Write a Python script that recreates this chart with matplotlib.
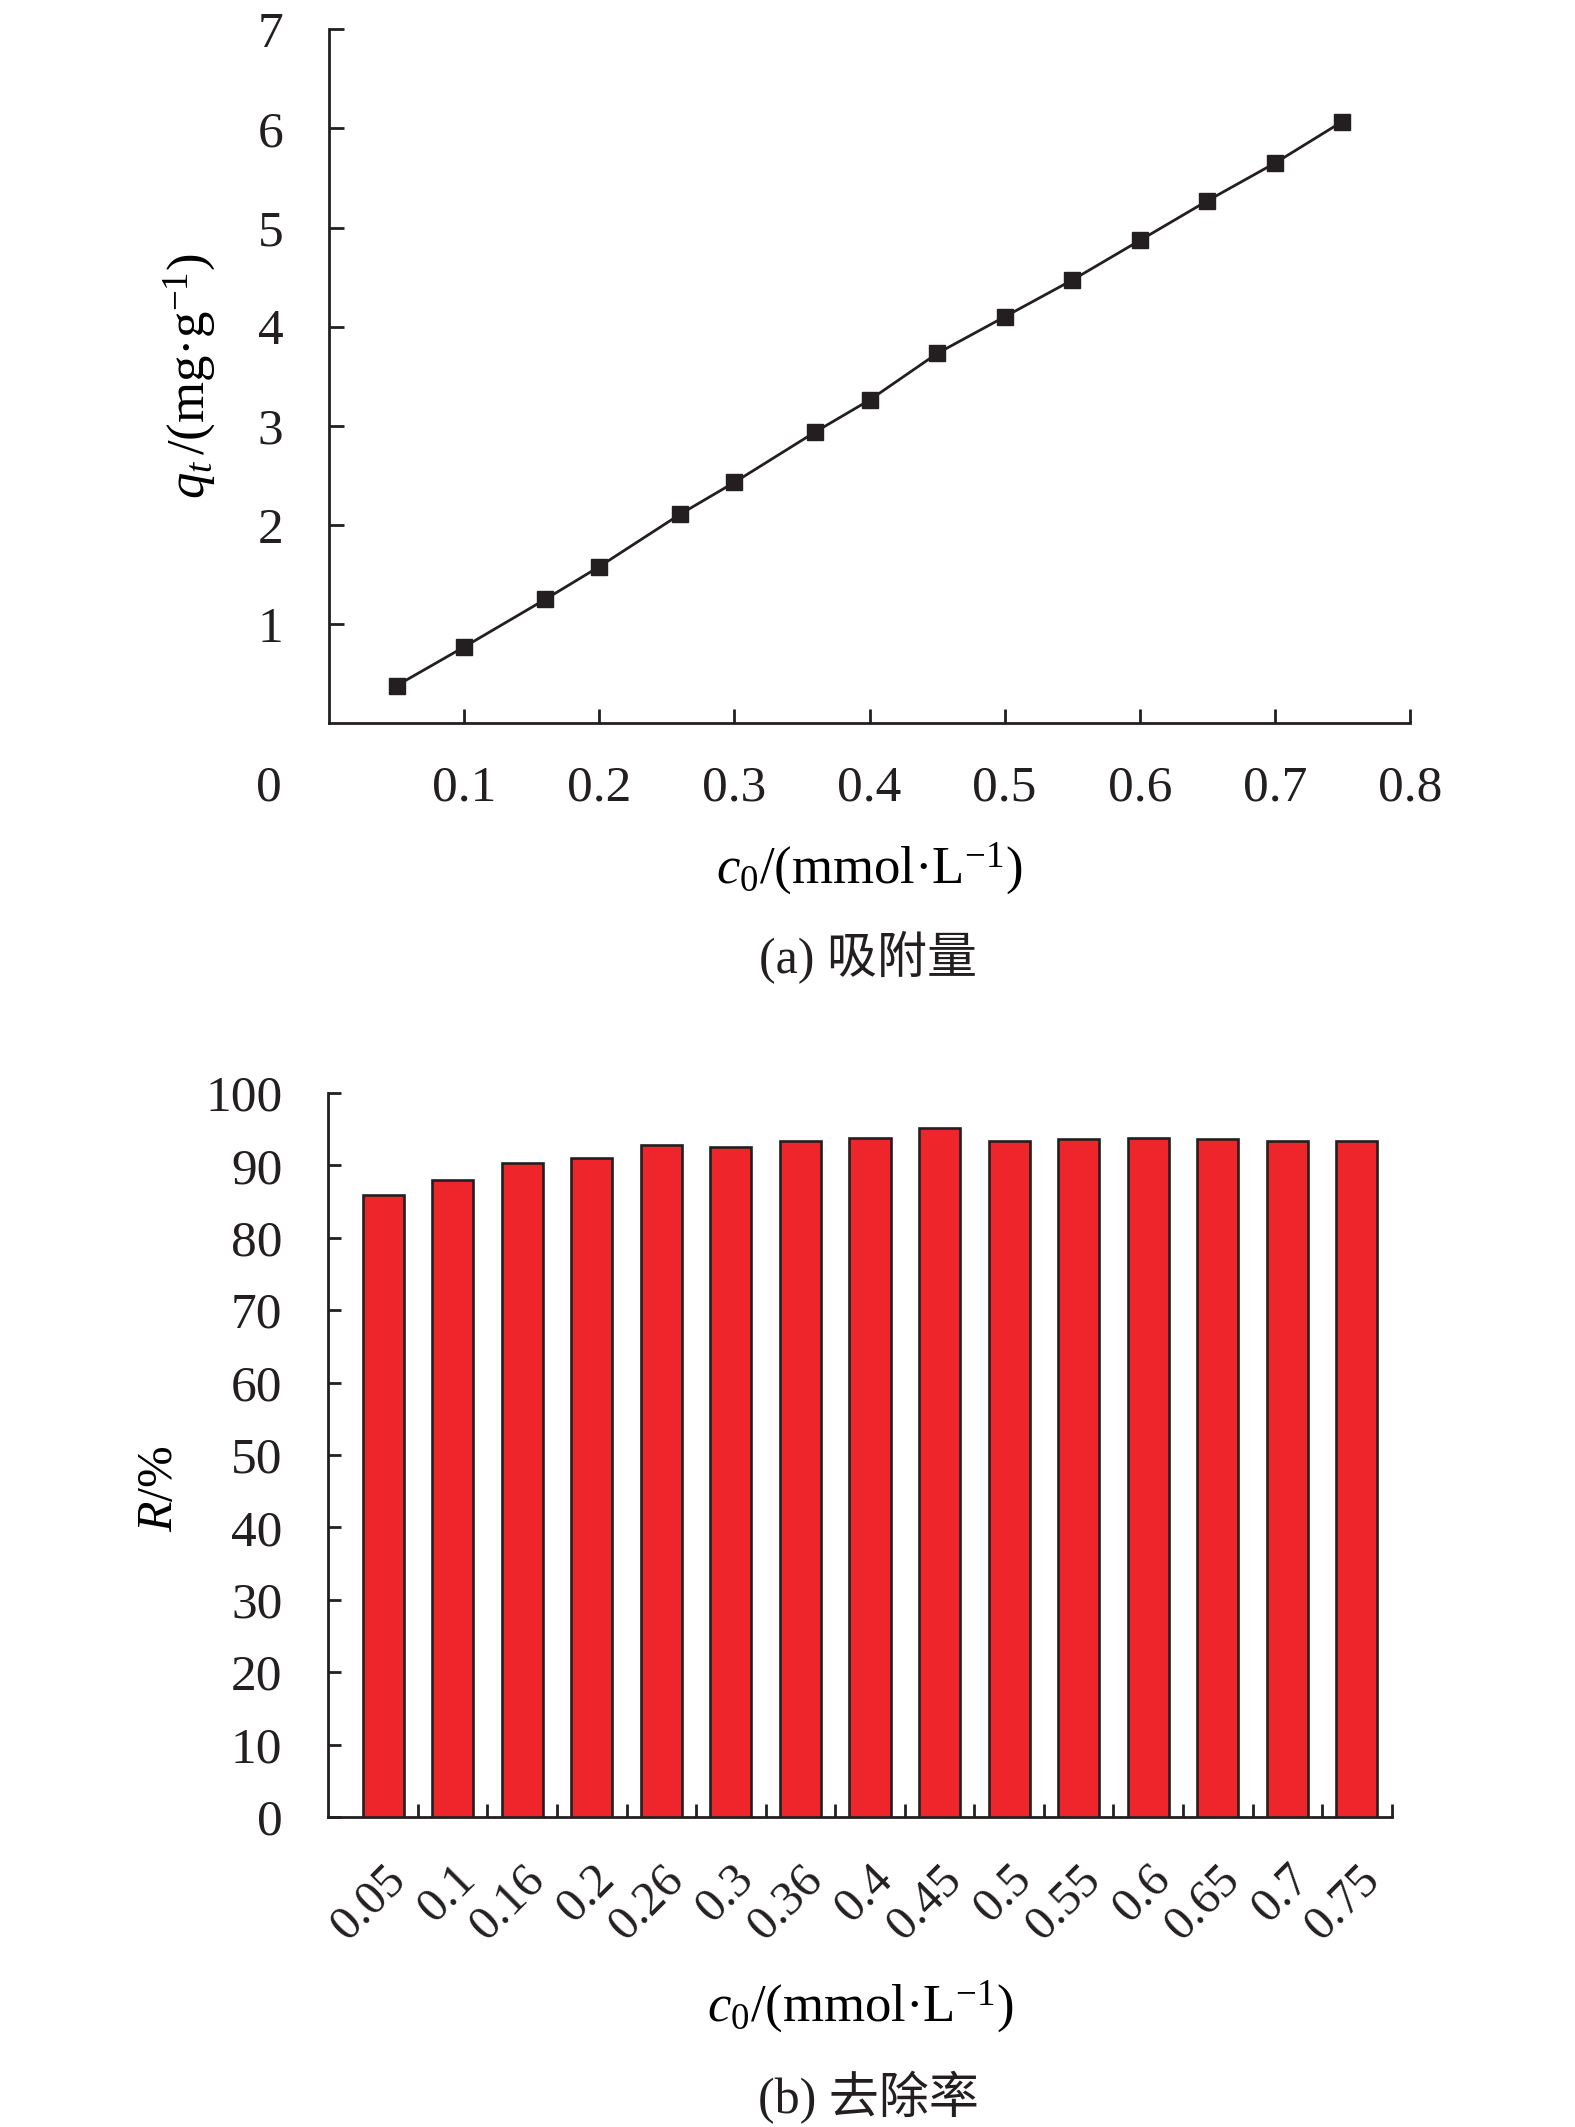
import matplotlib
matplotlib.use("Agg")
import matplotlib.pyplot as plt

# Dados
c0 = [0.05, 0.1, 0.16, 0.2, 0.26, 0.3, 0.36, 0.4, 0.45, 0.5, 0.55, 0.6, 0.65, 0.7, 0.75]
qt = [0.38, 0.77, 1.25, 1.58, 2.11, 2.43, 2.94, 3.26, 3.73, 4.10, 4.47, 4.87, 5.27, 5.65, 6.07]
removal = [85.9, 88.0, 90.3, 91.0, 92.8, 92.6, 93.4, 93.8, 95.2, 93.4, 93.6, 93.8, 93.7, 93.4, 93.4]
c0_labels = ["0.05", "0.1", "0.16", "0.2", "0.26", "0.3", "0.36", "0.4", "0.45",
             "0.5", "0.55", "0.6", "0.65", "0.7", "0.75"]

INK = "#231f20"
RED = "#ee252a"

plt.rcParams["font.family"] = ["Liberation Serif", "Noto Sans CJK SC"]
plt.rcParams["mathtext.fontset"] = "custom"
plt.rcParams["mathtext.rm"] = "Liberation Serif"
plt.rcParams["mathtext.it"] = "Liberation Serif:italic"
plt.rcParams["text.color"] = INK
plt.rcParams["axes.edgecolor"] = INK
plt.rcParams["xtick.color"] = INK
plt.rcParams["ytick.color"] = INK
plt.rcParams["axes.linewidth"] = 2.0

W, H = 1575, 2127
fig = plt.figure(figsize=(W / 100, H / 100), dpi=100)

# (a) quantidade adsorvida
ax1 = fig.add_axes([329 / W, 1 - 723.3 / H, (1410 - 329) / W, 694 / H])
ax1.plot(c0, qt, color=INK, linewidth=2.0, marker="s", markersize=11.5,
         markerfacecolor=INK, markeredgecolor=INK)
ax1.set_xlim(0, 0.8)
ax1.set_ylim(0, 7)
ax1.set_xticks([0.1, 0.2, 0.3, 0.4, 0.5, 0.6, 0.7, 0.8])
ax1.set_xticklabels(["0.1", "0.2", "0.3", "0.4", "0.5", "0.6", "0.7", "0.8"])
ax1.set_yticks([1, 2, 3, 4, 5, 6, 7])
ax1.spines["top"].set_visible(False)
ax1.spines["right"].set_visible(False)
ax1.tick_params(axis="x", direction="in", length=10, width=2, pad=30, labelsize=37)
ax1.tick_params(axis="y", direction="in", length=11, width=2, pad=33, labelsize=37)
ax1.text(-0.0435, -42 / 694, "0", transform=ax1.transAxes, ha="right", va="top", fontsize=37)
ax1.set_ylabel(r"$q_t\,$/(mg·g$^{-1}$)", fontsize=38, va="center")
ax1.yaxis.set_label_coords(-0.1286, 0.5)
ax1.set_xlabel(r"$c_0$/(mmol·L$^{-1}$)", fontsize=38, va="center")
ax1.xaxis.set_label_coords(0.5, -0.210)
fig.text(868 / W, 1 - 957 / H, "(a) 吸附量", ha="center", va="center", fontsize=36)

# (b) taxa de remoção
ax2 = fig.add_axes([328.3 / W, 1 - 1817 / H, (1391.7 - 328.3) / W, 724 / H])
pos = list(range(len(c0_labels)))
ax2.bar(pos, removal, width=0.59, color=RED, edgecolor=INK, linewidth=1.9, zorder=3)
ax2.set_xlim(-0.5 - 20 / 69.6, len(pos) - 0.5)
ax2.set_ylim(0, 100)
ax2.set_yticks(range(0, 101, 10))
ax2.set_xticks(pos)
ax2.set_xticklabels(c0_labels)
ax2.set_xticks([p + 0.5 for p in pos], minor=True)
ax2.spines["top"].set_visible(False)
ax2.spines["right"].set_visible(False)
ax2.tick_params(axis="x", which="major", length=0, pad=29, labelsize=35)
ax2.tick_params(axis="x", which="minor", direction="in", length=9.5, width=2)
ax2.tick_params(axis="y", direction="in", length=9.5, width=2, pad=33, labelsize=37)
plt.setp(ax2.get_xticklabels(), rotation=45, ha="right", rotation_mode="anchor")
ax2.set_ylabel(r"$R$/%", fontsize=36, va="center")
ax2.yaxis.set_label_coords(-0.1583, 0.453)
ax2.set_xlabel(r"$c_0$/(mmol·L$^{-1}$)", fontsize=38, va="center")
ax2.xaxis.set_label_coords(0.5, -0.2624)
fig.text(868 / W, 1 - 2098 / H, "(b) 去除率", ha="center", va="center", fontsize=36)

fig.savefig("out.png", dpi=100, facecolor="white")
